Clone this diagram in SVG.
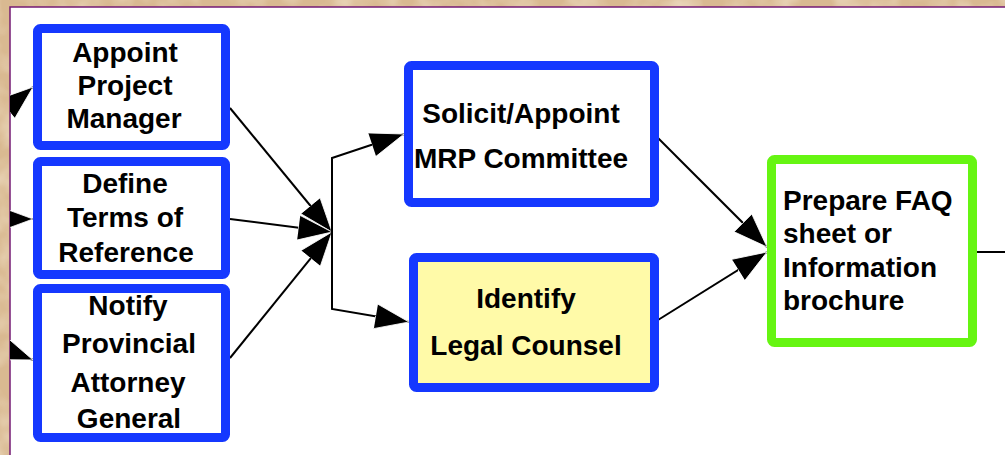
<svg xmlns="http://www.w3.org/2000/svg" width="1005" height="455" viewBox="0 0 1005 455">
  <defs>
    <style>
      .box { fill: #ffffff; stroke: #1538ff; stroke-width: 9; }
      .legal { fill: #fffaa8; }
      .faq { fill: #ffffff; stroke: #66f512; stroke-width: 9; }
      .lbl { font-family: "Liberation Sans", Arial, sans-serif; font-weight: bold; font-size: 28px; fill: #000000; }
      .mid { text-anchor: middle; }
      .edge { fill: none; stroke: #000000; stroke-width: 2; }
      .arrow { marker-end: url(#head); }
    </style>
    <marker id="head" markerUnits="userSpaceOnUse" markerWidth="38" markerHeight="28" refX="34" refY="12.5" orient="auto">
      <path d="M0,0 L34,12.5 L0,25 Z" fill="#000000" stroke="#ffffff" stroke-width="0.8"/>
    </marker>
    <filter id="grain" x="0" y="0" width="100%" height="100%">
      <feTurbulence type="fractalNoise" baseFrequency="0.03" numOctaves="3" seed="4"/>
      <feColorMatrix type="matrix" values="0 0 0 0 0.96  0 0 0 0 0.89  0 0 0 0 0.76  0 0 0 1.3 -0.5"/>
    </filter>
    <clipPath id="panel">
      <rect x="10" y="7" width="1000" height="460"/>
    </clipPath>
  </defs>

  <!-- parchment frame -->
  <rect x="0" y="0" width="1005" height="455" fill="#d9b991"/>
  <rect x="0" y="0" width="1005" height="455" filter="url(#grain)" opacity="0.8"/>

  <!-- white drawing panel -->
  <rect x="10" y="7" width="1000" height="460" fill="#ffffff" stroke="#741a74" stroke-width="1.5"/>

  <!-- connectors -->
  <g id="connectors" clip-path="url(#panel)">
    <line class="edge arrow" x1="-20" y1="131" x2="33" y2="87"/>
    <line class="edge arrow" x1="-20" y1="219" x2="33" y2="219"/>
    <line class="edge arrow" x1="-20" y1="340" x2="33" y2="360"/>

    <line class="edge arrow" x1="230" y1="108" x2="332" y2="232"/>
    <line class="edge arrow" x1="230" y1="219" x2="332" y2="232"/>
    <line class="edge arrow" x1="230" y1="358" x2="332" y2="232"/>

    <polyline class="edge arrow" points="332,232 332,158 404,134"/>
    <polyline class="edge arrow" points="332,232 332,309 409,322"/>

    <line class="edge arrow" x1="658" y1="138" x2="767" y2="247"/>
    <line class="edge arrow" x1="658" y1="320" x2="767" y2="252"/>

    <line class="edge" x1="977" y1="252" x2="1010" y2="252"/>
  </g>

  <!-- nodes -->
  <g id="appoint-pm">
    <rect class="box" x="37.5" y="28.5" width="188" height="117" rx="3"/>
    <text class="lbl mid" x="125" y="62">Appoint</text>
    <text class="lbl mid" x="125" y="95">Project</text>
    <text class="lbl mid" x="124" y="128">Manager</text>
  </g>

  <g id="define-tor">
    <rect class="box" x="37.5" y="161.5" width="188" height="113" rx="3"/>
    <text class="lbl mid" x="125" y="193">Define</text>
    <text class="lbl mid" x="125" y="227">Terms of</text>
    <text class="lbl mid" x="126" y="262">Reference</text>
  </g>

  <g id="notify-ag">
    <rect class="box" x="37.5" y="288.5" width="188" height="149" rx="3"/>
    <text class="lbl mid" x="128" y="315">Notify</text>
    <text class="lbl mid" x="129" y="353">Provincial</text>
    <text class="lbl mid" x="128" y="392">Attorney</text>
    <text class="lbl mid" x="129" y="428">General</text>
  </g>

  <g id="mrp-committee">
    <rect class="box" x="408.5" y="65.5" width="246" height="137" rx="3"/>
    <text class="lbl mid" x="521" y="123">Solicit/Appoint</text>
    <text class="lbl mid" x="521" y="168">MRP Committee</text>
  </g>

  <g id="legal-counsel">
    <rect class="box legal" x="413.5" y="257.5" width="241" height="130" rx="3"/>
    <text class="lbl mid" x="526" y="308">Identify</text>
    <text class="lbl mid" x="526" y="355">Legal Counsel</text>
  </g>

  <g id="faq-sheet">
    <rect class="faq" x="771.5" y="159.5" width="201" height="183" rx="3"/>
    <text class="lbl" x="783" y="210">Prepare FAQ</text>
    <text class="lbl" x="783" y="243">sheet or</text>
    <text class="lbl" x="783" y="277">Information</text>
    <text class="lbl" x="783" y="310">brochure</text>
  </g>
</svg>
